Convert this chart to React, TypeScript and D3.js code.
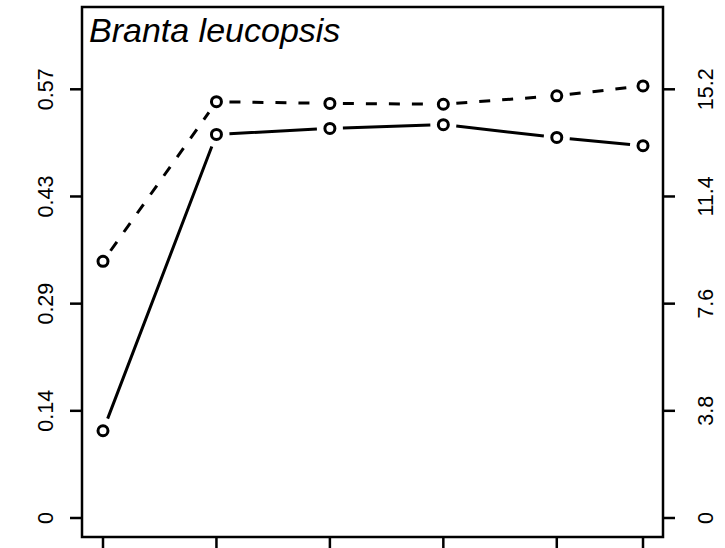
import React from "react";
import * as d3 from "d3";

const xValues = [1, 2, 3, 4, 5, 5.76];
const solidValues = [0.116, 0.51, 0.518, 0.523, 0.506, 0.495];
const dashedValues = [9.1, 14.76, 14.7, 14.67, 14.97, 15.32];
const leftTicks = [0, 0.1425, 0.285, 0.4275, 0.57];
const leftTickLabels = ["0", "0.14", "0.29", "0.43", "0.57"];
const rightTicks = [0, 3.8, 7.6, 11.4, 15.2];
const rightTickLabels = ["0", "3.8", "7.6", "11.4", "15.2"];
const title = "Branta leucopsis";

const W = 725;
const H = 548;
const box = { left: 82, right: 663, top: 7, bottom: 537 };

export default function App() {
  const x = d3.scaleLinear().domain([1, 5.76]).range([103, 643]);
  const yL = d3.scaleLinear().domain([0, 0.57]).range([518, 89.3]);
  const yR = d3.scaleLinear().domain([0, 15.2]).range([518, 89.3]);

  const gap = 13;
  const segs = (pts: [number, number][]) => {
    const out: string[] = [];
    for (let i = 0; i < pts.length - 1; i++) {
      const [x1, y1] = pts[i];
      const [x2, y2] = pts[i + 1];
      const dx = x2 - x1, dy = y2 - y1;
      const len = Math.hypot(dx, dy);
      if (len <= 2 * gap) continue;
      const ux = dx / len, uy = dy / len;
      out.push(`M${x1 + ux * gap},${y1 + uy * gap}L${x2 - ux * gap},${y2 - uy * gap}`);
    }
    return out.join("");
  };

  const solidPts: [number, number][] = xValues.map((v, i) => [x(v), yL(solidValues[i])]);
  const dashedPts: [number, number][] = xValues.map((v, i) => [x(v), yR(dashedValues[i])]);

  const font = "'Liberation Sans', Arial, Helvetica, sans-serif";
  const lw = 3;

  return (
    <svg width={W} height={H} style={{ position: "absolute", left: 0, top: 0, background: "#fff" }}>
      <rect x={box.left} y={box.top} width={box.right - box.left} height={box.bottom - box.top}
        fill="none" stroke="#000" strokeWidth={2.5} />
      {leftTicks.map((t, i) => (
        <g key={"l" + i}>
          <line x1={box.left - 12} x2={box.left} y1={yL(t)} y2={yL(t)} stroke="#000" strokeWidth={2.5} />
          <text transform={`translate(53,${yL(t)}) rotate(-90)`} textAnchor="middle"
            fontFamily={font} fontSize={21.5}>{leftTickLabels[i]}</text>
        </g>
      ))}
      {rightTicks.map((t, i) => (
        <g key={"r" + i}>
          <line x1={box.right} x2={box.right + 12} y1={yR(t)} y2={yR(t)} stroke="#000" strokeWidth={2.5} />
          <text transform={`translate(713,${yR(t)}) rotate(-90)`} textAnchor="middle"
            fontFamily={font} fontSize={21.5}>{rightTickLabels[i]}</text>
        </g>
      ))}
      {xValues.map((v, i) => (
        <line key={"b" + i} x1={x(v)} x2={x(v)} y1={box.bottom} y2={box.bottom + 12} stroke="#000" strokeWidth={2.5} />
      ))}
      <text x={89} y={42} fontFamily={font} fontSize={34} fontStyle="italic">{title}</text>
      <path d={segs(solidPts)} fill="none" stroke="#000" strokeWidth={lw} />
      <path d={segs(dashedPts)} fill="none" stroke="#000" strokeWidth={lw} strokeDasharray="11 12" />
      {solidPts.map((p, i) => (
        <circle key={"s" + i} cx={p[0]} cy={p[1]} r={5} fill="none" stroke="#000" strokeWidth={lw} />
      ))}
      {dashedPts.map((p, i) => (
        <circle key={"d" + i} cx={p[0]} cy={p[1]} r={5} fill="none" stroke="#000" strokeWidth={lw} />
      ))}
    </svg>
  );
}
